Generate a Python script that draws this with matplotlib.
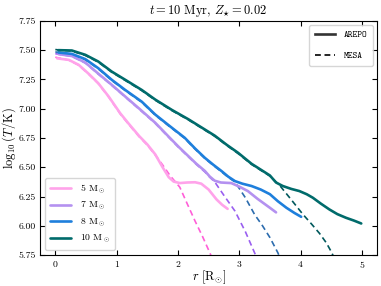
import matplotlib
matplotlib.use("Agg")
import matplotlib.pyplot as plt
from matplotlib.lines import Line2D

plt.rcParams['font.family'] = 'serif'
plt.rcParams['font.serif'] = ['cmr10', 'DejaVu Serif']
plt.rcParams['mathtext.fontset'] = 'cm'
plt.rcParams['axes.formatter.use_mathtext'] = True

# ---- data ----
masses = ["5", "7", "8", "10"]

arepo5_r = [0.03, 0.22, 0.38, 0.54, 0.70, 0.87, 1.06, 1.20, 1.37, 1.50, 1.63, 1.75, 1.85, 1.93,
            2.03, 2.15, 2.28, 2.38, 2.50, 2.63, 2.72, 2.81]
arepo5_T = [7.43, 7.417, 7.375, 7.30, 7.218, 7.104, 6.96, 6.87, 6.765, 6.695, 6.61, 6.50, 6.415, 6.378,
            6.365, 6.37, 6.372, 6.36, 6.31, 6.225, 6.18, 6.145]
mesa5_r = [0.0, 0.22, 0.38, 0.54, 0.70, 0.87, 1.06, 1.20, 1.37, 1.50, 1.63, 1.75, 1.87, 2.03,
           2.15, 2.28, 2.40, 2.52, 2.56]
mesa5_T = [7.44, 7.415, 7.372, 7.297, 7.215, 7.10, 6.955, 6.865, 6.76, 6.69, 6.605, 6.52, 6.43, 6.33,
           6.19, 6.04, 5.91, 5.77, 5.72]

arepo7_r = [0.05, 0.27, 0.49, 0.70, 0.92, 1.14, 1.37, 1.63, 1.87, 2.02, 2.17, 2.30, 2.44, 2.52,
            2.60, 2.70, 2.87, 3.00, 3.14, 3.30, 3.50, 3.60]
arepo7_T = [7.466, 7.45, 7.394, 7.30, 7.204, 7.104, 7.00, 6.88, 6.75, 6.67, 6.595, 6.53, 6.468, 6.42,
            6.385, 6.37, 6.365, 6.335, 6.297, 6.23, 6.154, 6.115]
mesa7_r = [0.0, 0.27, 0.49, 0.70, 0.92, 1.14, 1.37, 1.63, 1.87, 2.02, 2.17, 2.30, 2.44, 2.52,
           2.60, 2.75, 2.93, 3.10, 3.25, 3.29]
mesa7_T = [7.47, 7.447, 7.39, 7.296, 7.20, 7.10, 6.995, 6.875, 6.745, 6.665, 6.59, 6.525, 6.46, 6.415,
           6.375, 6.26, 6.126, 5.95, 5.77, 5.72]

arepo8_r = [0.05, 0.27, 0.49, 0.70, 0.92, 1.14, 1.41, 1.63, 1.87, 2.11, 2.28, 2.44, 2.58, 2.71,
            2.82, 2.93, 3.05, 3.20, 3.35, 3.50, 3.63, 3.77, 3.90, 4.01]
arepo8_T = [7.48, 7.468, 7.423, 7.346, 7.247, 7.16, 7.06, 6.95, 6.85, 6.752, 6.66, 6.58, 6.52, 6.468,
            6.42, 6.382, 6.36, 6.34, 6.31, 6.27, 6.21, 6.154, 6.11, 6.077]
mesa8_r = [0.0, 0.27, 0.49, 0.70, 0.92, 1.14, 1.41, 1.63, 1.87, 2.11, 2.28, 2.44, 2.58, 2.71,
           2.82, 2.93, 3.10, 3.25, 3.38, 3.50, 3.63, 3.67]
mesa8_T = [7.485, 7.465, 7.418, 7.341, 7.242, 7.155, 7.055, 6.945, 6.845, 6.747, 6.655, 6.575, 6.515, 6.462,
           6.415, 6.375, 6.24, 6.097, 6.0, 5.90, 5.77, 5.72]

arepo10_r = [0.05, 0.27, 0.49, 0.70, 0.92, 1.14, 1.41, 1.63, 1.90, 2.17, 2.40, 2.60, 2.80, 2.98,
             3.20, 3.35, 3.50, 3.60, 3.71, 3.85, 3.98, 4.10, 4.20, 4.33, 4.47, 4.60, 4.74, 4.87, 4.99]
arepo10_T = [7.50, 7.497, 7.46, 7.403, 7.317, 7.247, 7.16, 7.078, 6.99, 6.91, 6.835, 6.77, 6.69, 6.624,
             6.53, 6.48, 6.43, 6.37, 6.34, 6.315, 6.297, 6.27, 6.24, 6.19, 6.14, 6.10, 6.069, 6.045, 6.02]
mesa10_r = [0.0, 0.27, 0.49, 0.70, 0.92, 1.14, 1.41, 1.63, 1.90, 2.17, 2.40, 2.60, 2.80, 2.98,
            3.20, 3.35, 3.50, 3.66, 3.85, 4.04, 4.18, 4.31, 4.42, 4.50, 4.54]
mesa10_T = [7.505, 7.492, 7.455, 7.398, 7.312, 7.242, 7.155, 7.073, 6.985, 6.905, 6.83, 6.765, 6.685, 6.618,
            6.525, 6.475, 6.425, 6.345, 6.222, 6.097, 6.015, 5.935, 5.855, 5.78, 5.735]

arepo_colors = ["#ffa3ea", "#b491f0", "#1e7fdc", "#006b6b"]
mesa_colors = ["#ff5fd8", "#9a5ff0", "#2c6cae", "#00585c"]

x_ticks = [0, 1, 2, 3, 4, 5]
y_ticks = [5.75, 6.00, 6.25, 6.50, 6.75, 7.00, 7.25, 7.50, 7.75]

arepo_r = [arepo5_r, arepo7_r, arepo8_r, arepo10_r]
arepo_T = [arepo5_T, arepo7_T, arepo8_T, arepo10_T]
mesa_r = [mesa5_r, mesa7_r, mesa8_r, mesa10_r]
mesa_T = [mesa5_T, mesa7_T, mesa8_T, mesa10_T]

fig = plt.figure(figsize=(3.81, 2.86), dpi=100)
ax = fig.add_axes([0.105, 0.108, 0.885, 0.819])

handles = []
for i, m in enumerate(masses):
    h, = ax.plot(arepo_r[i], arepo_T[i], color=arepo_colors[i], lw=1.9,
                 solid_capstyle='round', solid_joinstyle='round',
                 label=m + r" M$_\odot$", zorder=3)
    ax.plot(mesa_r[i], mesa_T[i], color=mesa_colors[i], lw=1.2,
            ls=(0, (3.5, 2.2)), zorder=2)
    handles.append(h)

ax.set_xlim(-0.25, 5.25)
ax.set_ylim(5.75, 7.75)
ax.set_xticks(x_ticks)
ax.set_yticks(y_ticks)
ax.set_yticklabels([f"{v:.2f}" for v in y_ticks])
ax.tick_params(direction='in', top=True, right=True, labelsize=7, length=3.5, width=0.8, pad=3)

ax.set_xlabel(r"$r\ [\mathrm{R}_{\odot}]$", fontsize=9, labelpad=-1)
ax.set_ylabel(r"$\log_{10}(T/\mathrm{K})$", fontsize=9, labelpad=0)
ax.set_title(r"$t=10\ \mathrm{Myr},\, Z_{\star}=0.02$", fontsize=9, pad=5)

leg1 = ax.legend(handles=handles, loc='lower left', fontsize=7, handlelength=2.2,
                 borderpad=0.5, labelspacing=0.45, handletextpad=0.9, framealpha=0.8)
ax.add_artist(leg1)

style_handles = [Line2D([], [], color='#333333', lw=1.9),
                 Line2D([], [], color='black', lw=1.2, ls=(0, (3.5, 2.2)))]
ax.legend(style_handles, ["AREPO", "MESA"], loc='upper right',
          prop={'family': 'cmtt10', 'size': 6.5}, handlelength=2.2,
          borderpad=0.6, labelspacing=1.4, handletextpad=1.0, framealpha=0.8)

fig.savefig("out.png", dpi=100)
